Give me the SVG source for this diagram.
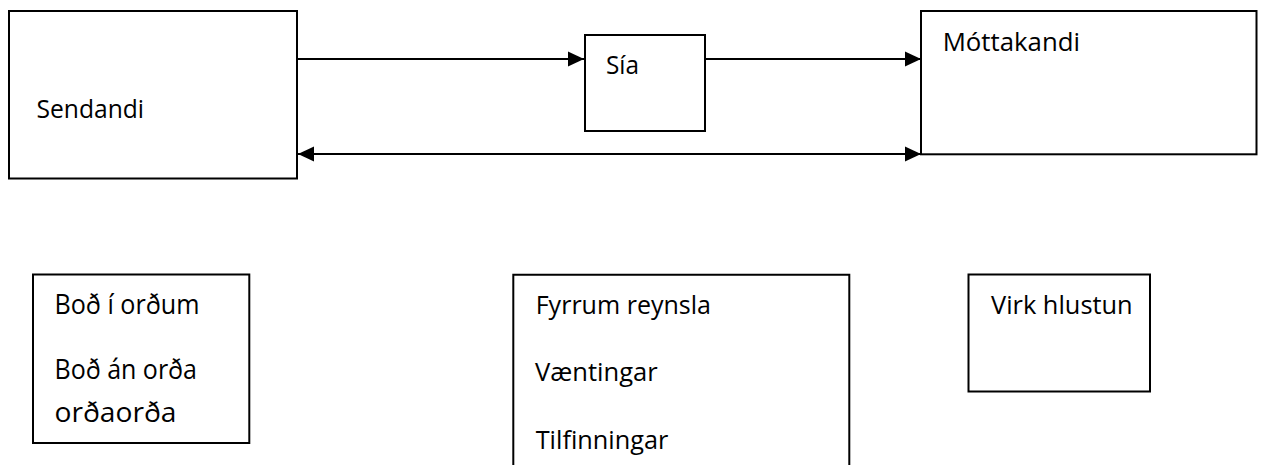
<svg xmlns="http://www.w3.org/2000/svg" width="1262" height="465" viewBox="0 0 1262 465">
  <style>
    .box { fill: #ffffff; stroke: #000000; stroke-width: 2; }
    .edge { fill: none; stroke: #000000; stroke-width: 2; }
    .label { font-family: "Open Sans", "Liberation Sans", sans-serif; font-size: 25.5px; fill: #000000; }
    .label.wide { font-size: 27px; }
  </style>
  <defs>
    <marker id="arrow-end" markerUnits="userSpaceOnUse" markerWidth="16" markerHeight="16" viewBox="0 0 15 14" refX="15" refY="7" orient="auto">
      <path d="M0,0 L15,7 L0,14 Z" fill="#000000"/>
    </marker>
    <marker id="arrow-start" markerUnits="userSpaceOnUse" markerWidth="16" markerHeight="16" viewBox="0 0 15 14" refX="0" refY="7" orient="auto">
      <path d="M15,0 L0,7 L15,14 Z" fill="#000000"/>
    </marker>
  </defs>
  <rect width="1262" height="465" fill="#ffffff"/>

  <!-- connectors -->
  <g id="connectors">
    <line class="edge" x1="297" y1="59" x2="584" y2="59" marker-end="url(#arrow-end)"/>
    <line class="edge" x1="705" y1="59" x2="921" y2="59" marker-end="url(#arrow-end)"/>
    <line class="edge" x1="298" y1="154" x2="921" y2="154" marker-start="url(#arrow-start)" marker-end="url(#arrow-end)"/>
  </g>

  <g id="sendandi">
    <rect class="box" x="9" y="11" width="288" height="167.5"/>
    <text class="label" x="36.5" y="118.3" textLength="107.5" lengthAdjust="spacingAndGlyphs">Sendandi</text>
  </g>

  <g id="sia">
    <rect class="box" x="585" y="35" width="120" height="96"/>
    <text class="label" x="606" y="74.3" textLength="33" lengthAdjust="spacingAndGlyphs">Sía</text>
  </g>

  <g id="mottakandi">
    <rect class="box" x="921" y="11" width="335.5" height="143.3"/>
    <text class="label" x="942.7" y="50.7" textLength="137.3" lengthAdjust="spacingAndGlyphs">Móttakandi</text>
  </g>

  <g id="bod">
    <rect class="box" x="33" y="274.5" width="216.3" height="168.5"/>
    <text class="label wide" x="54.5" y="314.3" textLength="145" lengthAdjust="spacingAndGlyphs">Boð í orðum</text>
    <text class="label wide" x="54.5" y="379" textLength="142.5" lengthAdjust="spacingAndGlyphs">Boð án orða</text>
    <text class="label wide" x="54.5" y="422" textLength="122" lengthAdjust="spacingAndGlyphs">orðaorða</text>
  </g>

  <g id="sia-thaettir">
    <path class="box" d="M513.3,470 L513.3,274.8 L849.3,274.8 L849.3,470"/>
    <text class="label" x="535.7" y="314.3" textLength="175.3" lengthAdjust="spacingAndGlyphs">Fyrrum reynsla</text>
    <text class="label" x="535" y="381" textLength="122.7" lengthAdjust="spacingAndGlyphs">Væntingar</text>
    <text class="label" x="535.7" y="449" textLength="132.6" lengthAdjust="spacingAndGlyphs">Tilfinningar</text>
  </g>

  <g id="virk-hlustun">
    <rect class="box" x="968.5" y="274.5" width="181.5" height="117"/>
    <text class="label" x="991" y="314.3" textLength="141.7" lengthAdjust="spacingAndGlyphs">Virk hlustun</text>
  </g>
</svg>
